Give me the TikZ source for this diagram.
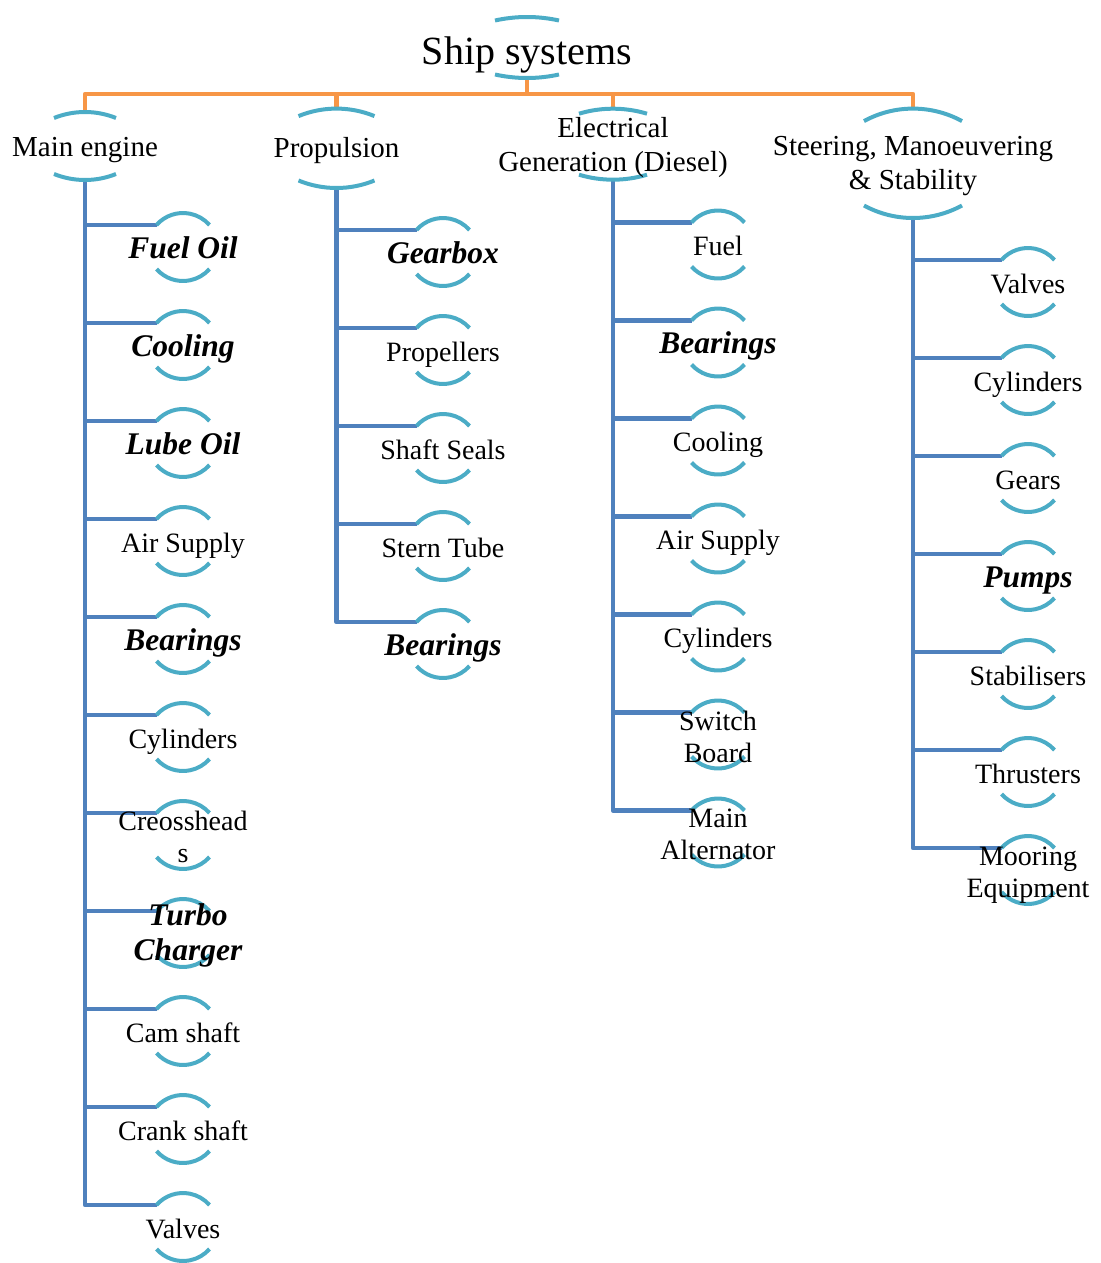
\documentclass[tikz,border=0pt]{standalone}
\usepackage{fontspec}
\setmainfont{Liberation Serif}
\definecolor{arcteal}{HTML}{4BACC6}
\definecolor{linkblue}{HTML}{4F81BD}
\definecolor{busorange}{HTML}{F79646}
\pgfdeclarelayer{background}
\pgfsetlayers{background,main}
% #1 name, #2 x, #3 y of the bracket centre, #4 half chord, #5 centre-to-apex,
% #6 sagitta, #7 label style, #8 offset of the last baseline, #9 label
\newcommand\bracketnode[9]{%
  \pgfmathsetmacro\brR{(#4*#4+#6*#6)/(2*#6)}%
  \pgfmathsetmacro\brA{asin(#4/\brR)}%
  \coordinate (#1-top) at ({#2},{#3-#5});
  \coordinate (#1-bot) at ({#2},{#3+#5});
  \coordinate (#1-in) at ({#2-#4},{#3-#5+#6});
  \draw[arcline] (#1-in) arc[start angle=90+\brA, end angle=90-\brA, radius=\brR pt];
  \draw[arcline] ({#2-#4},{#3+#5-#6}) arc[start angle=270-\brA, end angle=270+\brA, radius=\brR pt];
  \node[#7] (#1) at ({#2},{#3+(#8)}) {#9};
}
\tikzset{
  arcline/.style={draw=arcteal, line width=4pt},
  link/.style={draw=linkblue, line width=4.5pt, line join=round},
  buslink/.style={draw=busorange, line width=4.5pt, line join=round},
  rootlbl/.style={anchor=base, inner sep=0pt, font=\fontsize{40}{46}\selectfont},
  toplbl/.style={anchor=base, inner sep=0pt, align=center, font=\fontsize{29}{34.5}\selectfont},
  leaf/.style={anchor=base, inner sep=0pt, align=center, font=\fontsize{28}{32}\selectfont},
  leafb/.style={anchor=base, inner sep=0pt, align=center, font=\fontsize{31.5}{35}\selectfont\bfseries\itshape},
}
\begin{document}
\begin{tikzpicture}[x=1pt, y=-1pt]
\useasboundingbox (0,0) rectangle (1100,1263);

% root and first level
\bracketnode{root}{527}{47.5}{32}{30.5}{3.5}{rootlbl}{16.5}{Ship systems}
\bracketnode{me}{85}{146}{31}{34}{6}{toplbl}{10}{Main engine}
\bracketnode{pr}{336.5}{148.3}{38}{39.7}{7.5}{toplbl}{9}{Propulsion}
\bracketnode{el}{613}{144.2}{34}{35.5}{5}{toplbl}{27.5}{Electrical\\Generation (Diesel)}
\bracketnode{st}{913}{163.3}{49}{54.7}{12.5}{toplbl}{26.5}{Steering, Manoeuvering\\\& Stability}

% main engine branch
\bracketnode{fuel}{183}{247}{26.5}{34}{12}{leafb}{11}{Fuel Oil}
\bracketnode{cool}{183}{345}{26.5}{34}{12}{leafb}{11}{Cooling}
\bracketnode{lube}{183}{443}{26.5}{34}{12}{leafb}{11}{Lube Oil}
\bracketnode{airme}{183}{541}{26.5}{34}{12}{leaf}{11}{Air Supply}
\bracketnode{bearme}{183}{639}{26.5}{34}{12}{leafb}{11}{Bearings}
\bracketnode{cylme}{183}{737}{26.5}{34}{12}{leaf}{11}{Cylinders}
\bracketnode{cross}{183}{835}{26.5}{34}{12}{leaf}{27}{Creosshead\\s}
\bracketnode{turbo}{183}{933}{26.5}{34}{12}{leafb, xshift=5pt}{27.5}{Turbo\\Charger}
\bracketnode{cam}{183}{1031}{26.5}{34}{12}{leaf}{11}{Cam shaft}
\bracketnode{crank}{183}{1129}{26.5}{34}{12}{leaf}{11}{Crank shaft}
\bracketnode{valme}{183}{1227}{26.5}{34}{12}{leaf}{11}{Valves}

% propulsion branch
\bracketnode{gear}{443}{252}{26.5}{34}{12}{leafb}{11}{Gearbox}
\bracketnode{props}{443}{350}{26.5}{34}{12}{leaf}{11}{Propellers}
\bracketnode{seals}{443}{448}{26.5}{34}{12}{leaf}{11}{Shaft Seals}
\bracketnode{stern}{443}{546}{26.5}{34}{12}{leaf}{11}{Stern Tube}
\bracketnode{bearpr}{443}{644}{26.5}{34}{12}{leafb}{11}{Bearings}

% electrical generation branch
\bracketnode{fuelel}{718}{244.5}{26.5}{34}{12}{leaf}{11}{Fuel}
\bracketnode{bearel}{718}{342.5}{26.5}{34}{12}{leafb}{11}{Bearings}
\bracketnode{coolel}{718}{440.5}{26.5}{34}{12}{leaf}{11}{Cooling}
\bracketnode{airel}{718}{538.5}{26.5}{34}{12}{leaf}{11}{Air Supply}
\bracketnode{cylel}{718}{636.5}{26.5}{34}{12}{leaf}{11}{Cylinders}
\bracketnode{switch}{718}{734.5}{26.5}{34}{12}{leaf}{27.5}{Switch\\Board}
\bracketnode{alt}{718}{832.5}{26.5}{34}{12}{leaf}{26.5}{Main\\Alternator}

% steering branch
\bracketnode{valst}{1028}{282}{26.5}{34}{12}{leaf}{11}{Valves}
\bracketnode{cylst}{1028}{380}{26.5}{34}{12}{leaf}{11}{Cylinders}
\bracketnode{gears}{1028}{478}{26.5}{34}{12}{leaf}{11}{Gears}
\bracketnode{pumps}{1028}{576}{26.5}{34}{12}{leafb}{11}{Pumps}
\bracketnode{stab}{1028}{674}{26.5}{34}{12}{leaf}{11}{Stabilisers}
\bracketnode{thrust}{1028}{772}{26.5}{34}{12}{leaf}{11}{Thrusters}
\bracketnode{moor}{1028}{870}{26.5}{34}{12}{leaf}{27}{Mooring\\Equipment}

\begin{pgfonlayer}{background}
  % orange bus from the root to the four systems
  \coordinate (bus) at (527,94);
  \draw[buslink] (root-bot) -- (bus);
  \foreach \t in {me,pr,el,st} \draw[buslink] (bus) -| (\t-top);
  % blue trunks to the components
  \foreach \c in {fuel,cool,lube,airme,bearme,cylme,cross,turbo,cam,crank,valme}
    \draw[link] (me-bot) |- (\c-in);
  \foreach \c in {gear,props,seals,stern,bearpr}
    \draw[link] (pr-bot) |- (\c-in);
  \foreach \c in {fuelel,bearel,coolel,airel,cylel,switch,alt}
    \draw[link] (el-bot) |- (\c-in);
  \foreach \c in {valst,cylst,gears,pumps,stab,thrust,moor}
    \draw[link] (st-bot) |- (\c-in);
\end{pgfonlayer}
\end{tikzpicture}
\end{document}
